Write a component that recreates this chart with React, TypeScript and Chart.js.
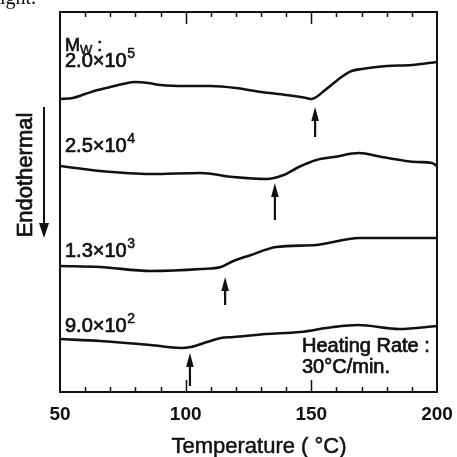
import React, { useEffect, useRef } from "react";
import { Chart, registerables } from "chart.js";

Chart.register(...registerables);

// Temperature (°C) and heat-flow (arbitrary units, endothermal down) for each sample
const temps1 = [50, 55, 60, 65, 70, 75, 80, 85, 90, 100, 110, 120, 130, 140, 148, 150, 152, 155, 158, 162, 166, 170, 180, 190, 200];
const heat1 = [293, 294, 298, 302, 305, 308, 310, 309, 307, 306, 306, 304, 300, 297, 294, 293, 295, 301, 307, 315, 321, 323, 326, 327, 330];

const temps2 = [50, 66, 86, 106, 119, 132, 139, 145, 152, 159, 169, 178, 192, 198, 200];
const heat2 = [226, 221, 218, 219, 215, 213, 217, 225, 232, 235, 239, 235, 230, 229, 226];

const temps3 = [50, 66, 86, 106, 114, 119, 126, 136, 152, 169, 200];
const heat3 = [126, 125, 121, 123, 125, 131, 137, 145, 147, 154, 154];

const temps4 = [50, 66, 86, 98, 102, 108.5, 114, 119, 132, 145.5, 158.6, 168.6, 185, 200];
const heat4 = [53, 51, 47, 44, 45, 50, 54, 55, 58, 60, 65, 67, 63, 66];

// Glass transition arrows: temperature, tail and head (heat-flow units)
const arrowTemps = [151.5, 135.5, 115.7, 101.7];
const arrowTails = [255, 172, 87, 6];
const arrowHeads = [285, 209, 115, 39];

// Molecular weight labels: mantissa and exponent
const mwMantissa = ["2.0", "2.5", "1.3", "9.0"];
const mwExponent = ["5", "4", "3", "2"];

const xLabelTicks = [50, 100, 150, 200];
const majorTicks = [100, 150];

const FONT = "'Liberation Sans', Arial, sans-serif";
const INK = "#111";

const toPoints = (t: number[], h: number[]) => t.map((x, i) => ({ x, y: h[i] }));

const heavyText = (ctx: any, s: string, x: number, y: number, sw = 0.7) => {
  ctx.fillText(s, x, y);
  ctx.lineWidth = sw;
  ctx.strokeText(s, x, y);
};

const decorPlugin = {
  id: "decor",
  beforeDraw(chart: any) {
    const { ctx, width, height } = chart;
    ctx.save();
    ctx.fillStyle = "#fff";
    ctx.fillRect(0, 0, width, height);
    ctx.restore();
  },
  afterDraw(chart: any) {
    const { ctx, chartArea: a, scales } = chart;
    const xs = scales.x;
    const ys = scales.y;
    ctx.save();
    ctx.strokeStyle = INK;
    ctx.fillStyle = INK;

    // frame
    ctx.lineWidth = 2;
    ctx.strokeRect(a.left, a.top, a.right - a.left, a.bottom - a.top);

    // inward ticks
    ctx.lineWidth = 1.5;
    xs.ticks.forEach((t: any) => {
      const v = t.value;
      if (v <= 50 || v >= 200) return;
      const px = Math.round(xs.getPixelForValue(v)) + 0.5;
      const len = majorTicks.includes(v) ? 12 : 5;
      ctx.beginPath();
      ctx.moveTo(px, a.bottom);
      ctx.lineTo(px, a.bottom - len);
      ctx.moveTo(px, a.top);
      ctx.lineTo(px, a.top + len);
      ctx.stroke();
    });

    // arrows
    const drawArrow = (x: number, y0: number, y1: number, hw: number, hl: number, lw: number) => {
      ctx.lineWidth = lw;
      ctx.beginPath();
      ctx.moveTo(x, y0);
      const dir = y1 > y0 ? 1 : -1;
      ctx.lineTo(x, y1 - dir * hl * 0.8);
      ctx.stroke();
      ctx.beginPath();
      ctx.moveTo(x, y1);
      ctx.lineTo(x - hw, y1 - dir * hl);
      ctx.lineTo(x + hw, y1 - dir * hl);
      ctx.closePath();
      ctx.fill();
    };
    arrowTemps.forEach((t, i) => {
      const px = xs.getPixelForValue(t);
      drawArrow(px, ys.getPixelForValue(arrowTails[i]), ys.getPixelForValue(arrowHeads[i]), 3.8, 14, 2.2);
    });

    // Endothermal arrow
    drawArrow(44, 107, 238, 5, 15, 2);

    // Endothermal text
    ctx.save();
    ctx.translate(32, 175);
    ctx.rotate(-Math.PI / 2);
    ctx.font = `22px ${FONT}`;
    ctx.textAlign = "center";
    ctx.textBaseline = "alphabetic";
    heavyText(ctx, "Endothermal", 0, 0);
    ctx.restore();

    // Mw header
    ctx.textAlign = "left";
    ctx.textBaseline = "alphabetic";
    ctx.font = `18px ${FONT}`;
    heavyText(ctx, "M", 65, 51);
    let mx = 65 + ctx.measureText("M").width;
    ctx.font = `13px ${FONT}`;
    heavyText(ctx, "W", mx, 54, 0.5);
    mx += ctx.measureText("W").width;
    ctx.font = `18px ${FONT}`;
    heavyText(ctx, " :", mx, 51);

    // Mw labels
    const baselines = [67, 152, 257, 332];
    mwMantissa.forEach((m, i) => {
      const y = baselines[i];
      ctx.font = `20px ${FONT}`;
      const s = `${m}\u00d710`;
      heavyText(ctx, s, 65, y);
      const w = ctx.measureText(s).width;
      ctx.font = `14px ${FONT}`;
      heavyText(ctx, mwExponent[i], 65 + w + 0.5, y - 9, 0.5);
    });

    // heating rate
    ctx.font = `20px ${FONT}`;
    heavyText(ctx, "Heating Rate :", 302, 352);
    heavyText(ctx, "30\u00b0C/min.", 302, 373);

    // axis title
    ctx.font = `22px ${FONT}`;
    ctx.textAlign = "center";
    heavyText(ctx, "Temperature ( \u00b0C)", 259, 453, 0.5);

    // clipped page text at top-left
    ctx.textAlign = "left";
    ctx.font = `20px 'Liberation Serif', 'Times New Roman', serif`;
    ctx.fillText("ight.", 0, 4);

    ctx.restore();
  },
};

export default function App() {
  const ref = useRef<HTMLCanvasElement | null>(null);

  useEffect(() => {
    if (!ref.current) return;
    const line = (t: number[], h: number[]) => ({
      data: toPoints(t, h),
      borderColor: INK,
      borderWidth: 2.6,
      pointRadius: 0,
      cubicInterpolationMode: "monotone" as const,
      fill: false,
    });
    const chart = new Chart(ref.current, {
      type: "line",
      data: {
        datasets: [line(temps1, heat1), line(temps2, heat2), line(temps3, heat3), line(temps4, heat4)],
      },
      options: {
        animation: false,
        responsive: false,
        devicePixelRatio: 1,
        layout: { padding: { left: 60, right: 20, top: 12, bottom: 0 } },
        plugins: { legend: { display: false }, tooltip: { enabled: false } },
        scales: {
          x: {
            type: "linear",
            min: 50,
            max: 200,
            border: { display: false },
            grid: { display: false, drawTicks: false },
            ticks: {
              stepSize: 10,
              autoSkip: false,
              maxRotation: 0,
              padding: 11,
              color: INK,
              font: { family: FONT, size: 19, weight: "bold" },
              callback: (v: any) => (xLabelTicks.includes(Number(v)) ? String(v) : ""),
            },
            afterFit: (s: any) => {
              s.height = 65;
              s.paddingLeft = 0;
              s.paddingRight = 0;
            },
          },
          y: { display: false, min: 0, max: 380 },
        },
      },
      plugins: [decorPlugin],
    });
    return () => chart.destroy();
  }, []);

  return (
    <div style={{ position: "fixed", left: 0, top: 0, width: 457, height: 457, background: "#fff" }}>
      <canvas ref={ref} width={457} height={457} style={{ display: "block" }} />
    </div>
  );
}
